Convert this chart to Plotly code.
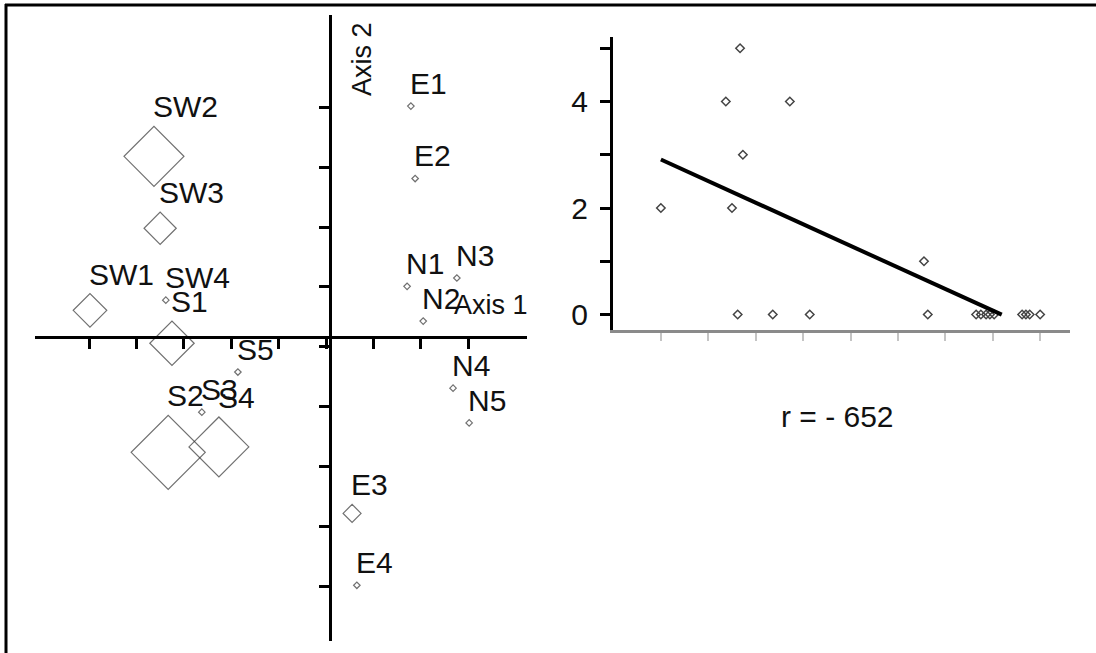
import plotly.graph_objects as go

W, H = 1096, 653
FONT = "Liberation Sans, Arial, sans-serif"

# ---------------- Left panel: ordination (scores in tick units) ----------------
site_labels = ["E1", "E2", "E3", "E4", "N1", "N2", "N3", "N4", "N5",
               "S1", "S2", "S3", "S4", "S5", "SW1", "SW2", "SW3", "SW4"]
axis1_scores = [1.79, 1.88, 0.55, 0.65, 1.71, 2.05, 2.76, 2.68, 3.02,
                -3.25, -3.33, -2.62, -2.26, -1.86, -4.98, -3.63, -3.50, -3.38]
axis2_scores = [4.02, 2.81, -2.78, -3.98, 1.01, 0.43, 1.15, -0.69, -1.27,
                0.06, -1.76, -1.09, -1.67, -0.42, 0.61, 3.18, 1.98, 0.78]
abundance = [0, 0, 1.7, 0, 0, 0, 0, 0, 0,
             5.6, 10, 0, 7.9, 0, 4.0, 7.9, 3.8, 0]
left_x_ticks = [-5, -4, -3, -2, -1, 0, 1, 2, 3]
left_y_ticks = [-4, -3, -2, -1, 0, 1, 2, 3, 4]

# ---------------- Right panel: scatter + regression ----------------
x_values = [0.0, 1.37, 1.67, 2.72, 1.73, 1.50, 1.62, 2.36, 3.14, 5.55,
            5.63, 6.65, 6.75, 6.86, 6.94, 7.03, 7.62, 7.70, 7.78, 8.0]
y_counts = [2, 4, 5, 4, 3, 2, 0, 0, 0, 1,
            0, 0, 0, 0, 0, 0, 0, 0, 0, 0]
fit_intercept = 2.91
fit_slope = -0.405
fit_x = [0.0, 7.19]
right_x_ticks = [0, 1, 2, 3, 4, 5, 6, 7, 8]
right_y_ticks = [0, 1, 2, 3, 4, 5]
right_y_ticktext = ["0", "", "2", "", "4", ""]
r_text = "r = - 652"

marker_px = [5 + 5.2 * a for a in abundance]

fig = go.Figure()

fig.add_trace(go.Scatter(
    x=axis1_scores, y=axis2_scores, mode="markers",
    marker=dict(symbol="diamond-open", size=marker_px, color="#333333",
                line=dict(width=1.2, color="#333333")),
    xaxis="x", yaxis="y", hoverinfo="skip", cliponaxis=False))

fig.add_trace(go.Scatter(
    x=x_values, y=y_counts, mode="markers",
    marker=dict(symbol="diamond-open", size=6.5, color="#444444",
                line=dict(width=1.5, color="#444444")),
    xaxis="x2", yaxis="y2", hoverinfo="skip", cliponaxis=False))

fig.add_trace(go.Scatter(
    x=fit_x, y=[fit_intercept + fit_slope * v for v in fit_x], mode="lines",
    line=dict(color="black", width=4),
    xaxis="x2", yaxis="y2", hoverinfo="skip"))

annotations = []
for lab, xv, yv, ms in zip(site_labels, axis1_scores, axis2_scores, marker_px):
    annotations.append(dict(
        x=xv, y=yv, xref="x", yref="y", text=lab, showarrow=False,
        xanchor="left", yanchor="bottom", xshift=-3, yshift=0.65 * ms + 1,
        font=dict(family=FONT, size=30, color="#111111")))

annotations.append(dict(
    x=452 / W, y=1 - 322 / H, xref="paper", yref="paper", text="Axis 1",
    showarrow=False, xanchor="left", yanchor="bottom",
    font=dict(family=FONT, size=27, color="#111111")))
annotations.append(dict(
    x=362 / W, y=1 - 59 / H, xref="paper", yref="paper", text="Axis 2",
    showarrow=False, xanchor="center", yanchor="middle", textangle=-90,
    font=dict(family=FONT, size=27, color="#111111")))
annotations.append(dict(
    x=837 / W, y=1 - 416 / H, xref="paper", yref="paper", text=r_text,
    showarrow=False, xanchor="center", yanchor="middle",
    font=dict(family=FONT, size=30, color="#111111")))

shapes = [
    dict(type="line", xref="paper", yref="paper", x0=5 / W, x1=1.0,
         y0=1 - 5 / H, y1=1 - 5 / H, layer="above",
         line=dict(color="black", width=3)),
    dict(type="line", xref="paper", yref="paper", x0=6 / W, x1=6 / W,
         y0=1 - 4 / H, y1=0, layer="above",
         line=dict(color="black", width=3)),
]

axis_common = dict(showgrid=False, zeroline=False, fixedrange=True)

fig.update_layout(
    width=W, height=H,
    margin=dict(l=0, r=0, t=0, b=0, pad=0),
    paper_bgcolor="white", plot_bgcolor="white",
    showlegend=False, hovermode=False,
    font=dict(family=FONT, color="#111111"),
    xaxis=dict(domain=[35 / W, 527 / W], range=[-6.14, 4.24],
               anchor="free", position=1 - 337 / H, side="bottom",
               showline=True, linecolor="black", linewidth=3,
               ticks="outside", ticklen=10, tickwidth=3, tickcolor="black",
               tickvals=left_x_ticks, showticklabels=False, **axis_common),
    yaxis=dict(domain=[1 - 641 / H, 1 - 15 / H], range=[-4.91, 5.54],
               anchor="free", position=330 / W, side="left",
               showline=True, linecolor="black", linewidth=3,
               ticks="outside", ticklen=10, tickwidth=3, tickcolor="black",
               tickvals=left_y_ticks, showticklabels=False, **axis_common),
    xaxis2=dict(domain=[613 / W, 1070 / W], range=[-1.01, 8.63],
                anchor="y2", showline=True, linecolor="#8a8a8a", linewidth=3,
                ticks="outside", ticklen=8, tickwidth=2, tickcolor="#c4c4c4",
                tickvals=right_x_ticks, showticklabels=False, **axis_common),
    yaxis2=dict(domain=[1 - 330 / H, 1 - 37 / H], range=[-0.29, 5.21],
                anchor="x2", showline=True, linecolor="black", linewidth=3,
                ticks="outside", ticklen=10, tickwidth=3, tickcolor="black",
                tickvals=right_y_ticks, ticktext=right_y_ticktext,
                ticklabelstandoff=6,
                tickfont=dict(family=FONT, size=30, color="#111111"),
                **axis_common),
    annotations=annotations,
    shapes=shapes,
)

fig.write_html("out.html",
               config={"displayModeBar": False, "staticPlot": True},
               post_script="document.body.style.margin='0';"
                           "document.body.style.overflow='hidden';")
